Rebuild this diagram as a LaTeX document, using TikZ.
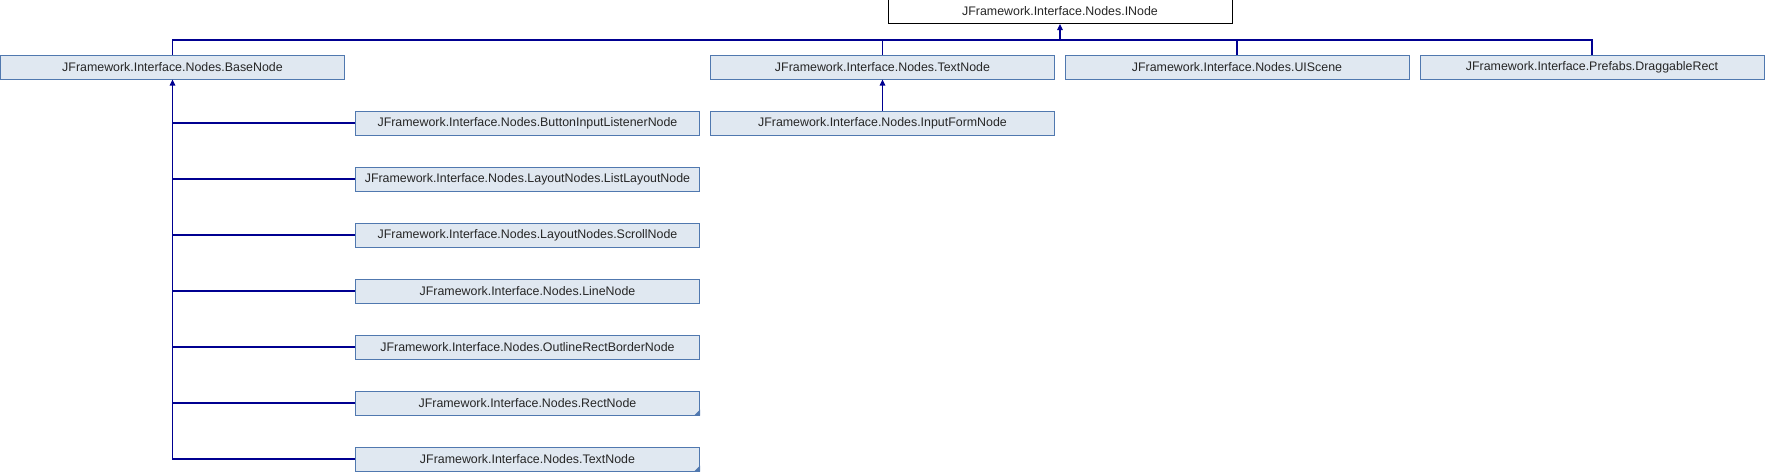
\documentclass[tikz,border=0pt]{standalone}
\usepackage{fontspec}
\setmainfont{Liberation Sans}
\usetikzlibrary{arrows.meta}
\definecolor{boxfill}{RGB}{224,232,241}
\definecolor{boxdraw}{RGB}{80,120,175}
\definecolor{linkc}{RGB}{0,0,145}
\tikzset{
  cls/.style={draw=boxdraw, fill=boxfill, line width=1pt, minimum width=344pt, minimum height=24pt, inner sep=0pt, font=\fontsize{12.4}{14}\selectfont, text=black!85},
  rootcls/.style={cls, draw=black, fill=white},
  link/.style={draw=linkc, line width=1.1pt},
  inh/.style={link, -{Triangle[width=5.5pt,length=6pt]}},
  corner/.style={fill=boxdraw, draw=none}
}
\begin{document}
\begin{tikzpicture}[x=1pt,y=-1pt]
\useasboundingbox (0,0) rectangle (1765,472);
\node[rootcls] (inode) at (1060,11.5) {JFramework.Interface.Nodes.INode};
\node[cls] (base) at (172.5,67) {JFramework.Interface.Nodes.BaseNode};
\node[cls] (text) at (882.5,67) {JFramework.Interface.Nodes.TextNode};
\node[cls] (ui) at (1237,67) {JFramework.Interface.Nodes.UIScene};
\node[cls] (drag) at (1592,67) {JFramework.Interface.Prefabs.DraggableRect};
\node[cls] (input) at (882.5,123) {JFramework.Interface.Nodes.InputFormNode};
\node[cls] (c1) at (527.5,123) {JFramework.Interface.Nodes.ButtonInputListenerNode};
\node[cls] (c2) at (527.5,179) {JFramework.Interface.Nodes.LayoutNodes.ListLayoutNode};
\node[cls] (c3) at (527.5,235) {JFramework.Interface.Nodes.LayoutNodes.ScrollNode};
\node[cls] (c4) at (527.5,291) {JFramework.Interface.Nodes.LineNode};
\node[cls] (c5) at (527.5,347) {JFramework.Interface.Nodes.OutlineRectBorderNode};
\node[cls] (c6) at (527.5,403) {JFramework.Interface.Nodes.RectNode};
\node[cls] (c7) at (527.5,459) {JFramework.Interface.Nodes.TextNode};
\fill[corner] (c6.south east) -- ++(0,-6) -- ++(-6,6) -- cycle;
\fill[corner] (c7.south east) -- ++(0,-6) -- ++(-6,6) -- cycle;
\coordinate (bus) at (1060,40);
\draw[link] (base.north) |- (bus);
\draw[link] (text.north) |- (bus);
\draw[link] (ui.north) |- (bus);
\draw[link] (drag.north) |- (bus);
\draw[inh] (bus) -- (inode.south);
\draw[inh] (input.north) -- (text.south);
\draw[link] (c1.west) -| (base.south);
\draw[link] (c2.west) -| (base.south);
\draw[link] (c3.west) -| (base.south);
\draw[link] (c4.west) -| (base.south);
\draw[link] (c5.west) -| (base.south);
\draw[link] (c6.west) -| (base.south);
\draw[inh] (c7.west) -| (base.south);
\end{tikzpicture}
\end{document}
